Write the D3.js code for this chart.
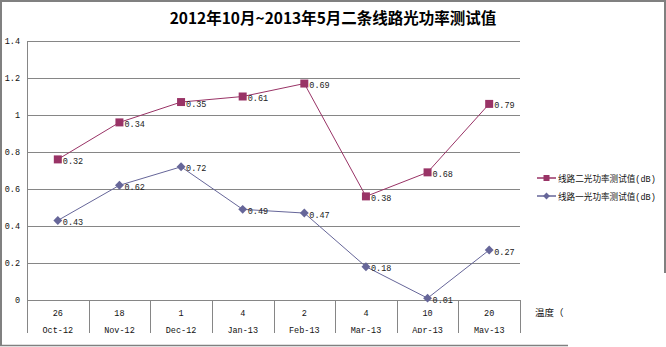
<!DOCTYPE html>
<html><head><meta charset="utf-8">
<script src="https://d3js.org/d3.v7.min.js"></script>
<style>html,body{margin:0;padding:0;background:#fff;}svg{display:block;}</style>
</head><body>
<script>
const categories = ["Oct-12","Nov-12","Dec-12","Jan-13","Feb-13","Mar-13","Apr-13","May-13"];
const temperatures = ["26","18","1","4","2","4","10","20"];
const series2Name = "线路二光功率测试值";
const series1Name = "线路一光功率测试值";
const unitText = "(dB)";
const series2Values = [0.76, 0.96, 1.07, 1.10, 1.17, 0.56, 0.69, 1.06];
const series2Labels = ["0.32","0.34","0.35","0.61","0.69","0.38","0.68","0.79"];
const series1Values = [0.43, 0.62, 0.72, 0.49, 0.47, 0.18, 0.01, 0.27];
const series1Labels = ["0.43","0.62","0.72","0.49","0.47","0.18","0.01","0.27"];
const yTicks = [0, 0.2, 0.4, 0.6, 0.8, 1, 1.2, 1.4];
const titleText = "2012年10月~2013年5月二条线路光功率测试值";
const axisTitle = "温度（";

const W = 666, H = 347;
const svg = d3.select("body").append("svg").attr("width", W).attr("height", H);
const monoFont = "'Liberation Mono','DejaVu Sans Mono',monospace";
const cjkFont = "'Noto Sans CJK SC',sans-serif";

// outer border (partially cut)
const bc = "#808080";
svg.append("line").attr("x1",1).attr("y1",0).attr("x2",1).attr("y2",346).attr("stroke",bc).attr("stroke-width",2);
svg.append("line").attr("x1",0).attr("y1",1).attr("x2",666).attr("y2",1).attr("stroke",bc).attr("stroke-width",2);
svg.append("line").attr("x1",665).attr("y1",0).attr("x2",665).attr("y2",273).attr("stroke",bc).attr("stroke-width",2);
svg.append("line").attr("x1",0).attr("y1",345.5).attr("x2",568).attr("y2",345.5).attr("stroke",bc).attr("stroke-width",1.5);

const x = d3.scaleBand().domain(categories).range([27, 520]);
const y = d3.scaleLinear().domain([0, 1.4]).range([300, 41]);
const cx = d => x(d) + x.bandwidth()/2;
const gc = "#868686";

// gridlines
svg.append("g").selectAll("line").data(yTicks).join("line")
  .attr("x1", 27).attr("x2", 520)
  .attr("y1", d => Math.round(y(d))+0.5).attr("y2", d => Math.round(y(d))+0.5)
  .attr("stroke", gc).attr("stroke-width", 1);
svg.append("line").attr("x1",27.5).attr("x2",27.5).attr("y1",y(1.4)).attr("y2",300.5).attr("stroke",gc);
svg.append("g").selectAll("text").data(yTicks).join("text")
  .attr("x", 20).attr("y", d => y(d)+3)
  .attr("text-anchor","end").attr("font-family",monoFont).attr("font-size","8.5px").attr("fill","#111")
  .text(d => d3.format("")(d));

// category separators
const bounds = categories.map(c => x(c)).concat([x(categories[categories.length-1]) + x.bandwidth()]);
svg.append("g").selectAll("line").data(bounds).join("line")
  .attr("x1", d => Math.round(d)+0.5).attr("x2", d => Math.round(d)+0.5)
  .attr("y1", 300).attr("y2", 333).attr("stroke", gc);

svg.append("g").selectAll("text").data(categories).join("text")
  .attr("x", d => cx(d)).attr("y", 316).attr("text-anchor","middle")
  .attr("font-family",monoFont).attr("font-size","8.5px").attr("fill","#111")
  .text((d,i) => temperatures[i]);
svg.append("clipPath").attr("id","xc").append("rect").attr("x",0).attr("y",300).attr("width",666).attr("height",33);
svg.append("g").attr("clip-path","url(#xc)").selectAll("text").data(categories).join("text")
  .attr("x", d => cx(d)).attr("y", 333).attr("text-anchor","middle")
  .attr("font-family",monoFont).attr("font-size","8.5px").attr("fill","#111")
  .text(d => d);
svg.append("text").attr("x", 535).attr("y", 316).attr("font-family",cjkFont).attr("font-size","9.5px").attr("fill","#111").text(axisTitle);

// title
svg.append("text").attr("x", 333).attr("y", 24).attr("text-anchor","middle")
  .attr("font-family",cjkFont).attr("font-weight","bold").attr("font-size","15.5px")
  .attr("fill","#000").text(titleText);

const line = d3.line().x((d,i) => cx(categories[i])).y(d => y(d));
const c2 = "#993366", c1 = "#666699";

function drawSeries(vals, labels, color, shape) {
  const g = svg.append("g");
  g.append("path").datum(vals).attr("d", line).attr("fill","none").attr("stroke",color).attr("stroke-width",1);
  g.selectAll("path.m").data(vals).join("path").attr("class","m")
    .attr("transform",(d,i) => `translate(${cx(categories[i])},${y(d)})`)
    .attr("d", shape === "square" ? d3.symbol(d3.symbolSquare, 64)() : d3.symbol(d3.symbolDiamond2, 50)())
    .attr("fill", color);
  g.selectAll("text").data(vals).join("text")
    .attr("x",(d,i) => cx(categories[i]) + 5).attr("y", d => y(d) + 4.5)
    .attr("font-family",monoFont).attr("font-size","8.5px").attr("fill","#222")
    .text((d,i) => labels[i]);
}
drawSeries(series2Values, series2Labels, c2, "square");
drawSeries(series1Values, series1Labels, c1, "diamond");

// legend
const legend = [
  {name: series2Name, color: c2, shape: "square", y: 178},
  {name: series1Name, color: c1, shape: "diamond", y: 196}
];
const lg = svg.append("g").selectAll("g").data(legend).join("g");
lg.append("line").attr("x1",537).attr("x2",556).attr("y1",d=>d.y).attr("y2",d=>d.y).attr("stroke",d=>d.color).attr("stroke-width",1.5);
lg.append("path").attr("transform",d=>`translate(546.5,${d.y})`)
  .attr("d",d => d.shape === "square" ? d3.symbol(d3.symbolSquare, 36)() : d3.symbol(d3.symbolDiamond2, 30)())
  .attr("fill",d=>d.color);
const lt = lg.append("text").attr("x",558).attr("y",d=>d.y+3.5).attr("fill","#111");
lt.append("tspan").attr("font-family",cjkFont).attr("font-size","8.6px").text(d=>d.name);
lt.append("tspan").attr("font-family",monoFont).attr("font-size","8.5px").text(unitText);
</script>
</body></html>
